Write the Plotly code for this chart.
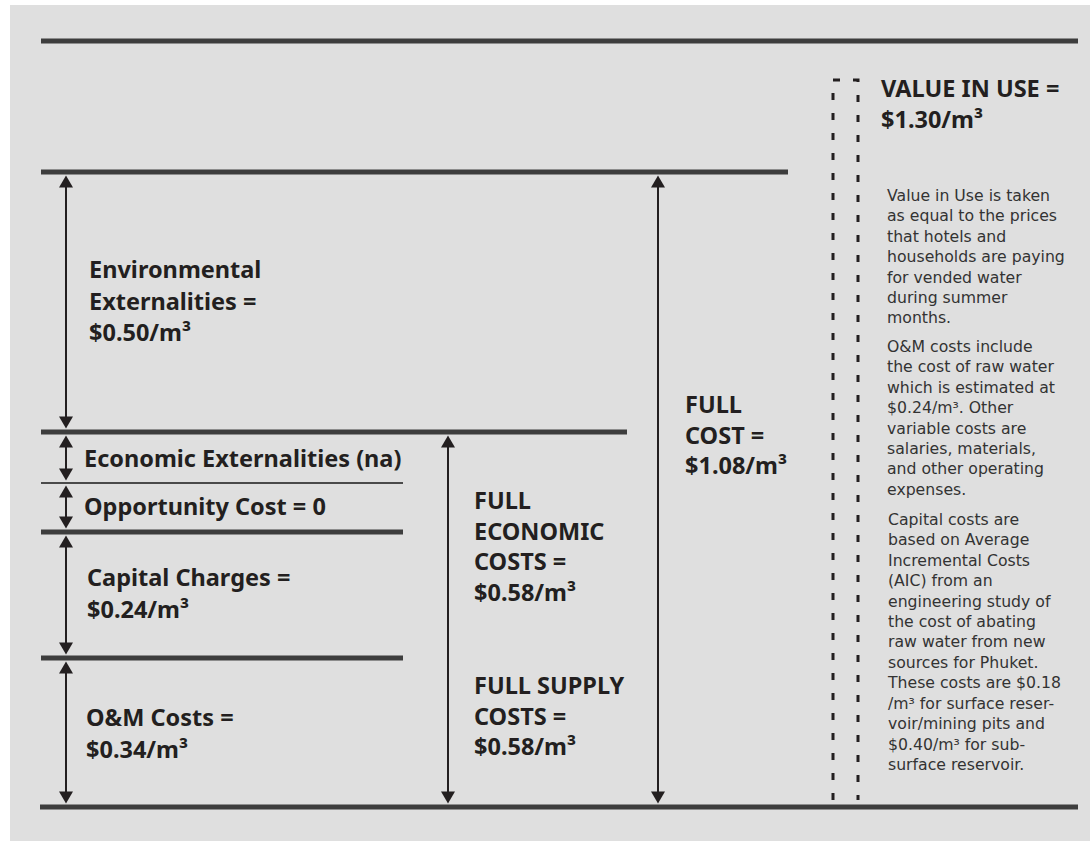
import plotly.graph_objects as go

# ---------------- data ----------------
components = ["O&M Costs", "Capital Charges", "Opportunity Cost",
              "Economic Externalities", "Environmental Externalities"]
unit_cost = [0.34, 0.24, 0.0, None, 0.50]          # $/m3 (None = not available)
aggregate_names = ["FULL SUPPLY COSTS", "FULL ECONOMIC COSTS", "FULL COST"]
aggregate_values = [0.58, 0.58, 1.08]
value_in_use_label = "VALUE IN USE"
value_in_use = 1.30
notes = [
    ["Value in Use is taken", "as equal to the prices", "that hotels and",
     "households are paying", "for vended water", "during summer", "months."],
    ["O&M costs include", "the cost of raw water", "which is estimated at",
     "$0.24/m³. Other", "variable costs are", "salaries, materials,",
     "and other operating", "expenses."],
    ["Capital costs are", "based on Average", "Incremental Costs",
     "(AIC) from an", "engineering study of", "the cost of abating",
     "raw water from new", "sources for Phuket.", "These costs are $0.18",
     "/m³ for surface reser-", "voir/mining pits and", "$0.40/m³ for sub-",
     "surface reservoir."],
]


def money(v):
    return f"${v:.2f}/m³"


# ---------------- layout (schematic, pixel units) ----------------
W, H = 1090, 841
DARK = "#231f20"
RULE = "#3d3d3d"
BOLD = dict(family="Noto Sans", size=23.5, color=DARK, weight="bold")
NOTE = dict(family="DejaVu Sans", size=15.7, color="#333333")
NOTE_LINE = 1.3 * NOTE["size"]          # plotly's line pitch

# band boundaries (bottom -> top) in the schematic
levels = [807, 658, 532, 483, 432, 172]
rule_right = [1078, 403, 403, 403, 627, 788]
rule_width = [5, 5, 5, 2, 5, 5]
top_rule_y = 41
left_x = 41

shapes = []
annotations = []

# grey panel
shapes.append(dict(type="rect", x0=10, x1=W, y0=5, y1=H, line_width=0,
                   fillcolor="#dfdfdf", layer="below"))

# horizontal rules
shapes.append(dict(type="line", x0=left_x, x1=1078, y0=top_rule_y, y1=top_rule_y,
                   line=dict(color=RULE, width=5)))
for y, xr, w in zip(levels, rule_right, rule_width):
    shapes.append(dict(type="line", x0=left_x - (1 if y == levels[0] else 0), x1=xr,
                       y0=y, y1=y, line=dict(color=RULE if w > 2 else "#4a4a4a", width=w)))


def double_arrow(x, ytop, ybot, gap_top=3.5, gap_bot=3.5, hh=12, hw=7):
    t = ytop + gap_top
    b = ybot - gap_bot
    shapes.append(dict(type="line", x0=x, x1=x, y0=t + hh - 1, y1=b - hh + 1,
                       line=dict(color=DARK, width=2)))
    shapes.append(dict(type="path", path=f"M {x-hw},{t+hh} L {x+hw},{t+hh} L {x},{t} Z",
                       fillcolor=DARK, line_width=0))
    shapes.append(dict(type="path", path=f"M {x-hw},{b-hh} L {x+hw},{b-hh} L {x},{b} Z",
                       fillcolor=DARK, line_width=0))


# component arrows
arrow_x = 66
for i in range(len(components)):
    lo, hi = levels[i], levels[i + 1]
    gt = 2.5 if rule_width[i + 1] == 2 else 3.5
    gb = 2.5 if rule_width[i] == 2 else 3.5
    double_arrow(arrow_x, hi, lo, gt, gb)

# aggregate arrows
double_arrow(448, levels[4], levels[0])
double_arrow(658, levels[5], levels[0])


def text_block(lines, x, y0, font, spacing=31.5):
    for k, s in enumerate(lines):
        annotations.append(dict(x=x, y=y0 + k * spacing, xref="x", yref="y",
                                text=s, showarrow=False, xanchor="left",
                                yanchor="middle", font=font))


# component labels
band_lines = [
    [f"{components[0]} =", money(unit_cost[0])],
    [f"{components[1]} =", money(unit_cost[1])],
    [f"{components[2]} = {unit_cost[2]:g}"],
    [f"{components[3]} (na)" if unit_cost[3] is None else f"{components[3]} = {money(unit_cost[3])}"],
    components[4].split()[:1] + [components[4].split()[1] + " =", money(unit_cost[4])],
]
band_text_pos = [(84, 717), (85, 577), (82, 506), (82, 458), (87, 269)]
for lines, (x, y) in zip(band_lines, band_text_pos):
    text_block(lines, x, y, BOLD)

# aggregate labels
agg_lines = [
    ["FULL SUPPLY", "COSTS =", money(aggregate_values[0])],
    ["FULL", "ECONOMIC", "COSTS =", money(aggregate_values[1])],
    ["FULL", "COST =", money(aggregate_values[2])],
]
agg_pos = [(472, 685), (472, 500), (683, 404)]
for lines, (x, y) in zip(agg_lines, agg_pos):
    text_block(lines, x, y, BOLD, spacing=30.7)

# value in use
text_block([f"{value_in_use_label} =", money(value_in_use)], 879, 88, BOLD, spacing=31)
shapes.append(dict(type="path", path="M 833,800 L 833,80 L 858,80 L 858,800",
                   line=dict(color=DARK, width=3, dash="7px,13px")))

# notes: one annotation per paragraph
para_first_line_y = [195, 347, 520]
for para, y0 in zip(notes, para_first_line_y):
    annotations.append(dict(x=885, y=y0 + (len(para) - 1) * NOTE_LINE / 2,
                            xref="x", yref="y", text="<br>".join(para),
                            showarrow=False, xanchor="left", yanchor="middle",
                            align="left", font=NOTE))

fig = go.Figure()
fig.update_layout(
    width=W, height=H, margin=dict(l=0, r=0, t=0, b=0),
    paper_bgcolor="white", plot_bgcolor="rgba(0,0,0,0)",
    xaxis=dict(range=[0, W], visible=False, fixedrange=True),
    yaxis=dict(range=[H, 0], visible=False, fixedrange=True),
    shapes=shapes, annotations=annotations, showlegend=False,
)
fig.write_html("out.html", config={"displayModeBar": False},
               post_script="document.body.style.margin='0';document.body.style.overflow='hidden';")
